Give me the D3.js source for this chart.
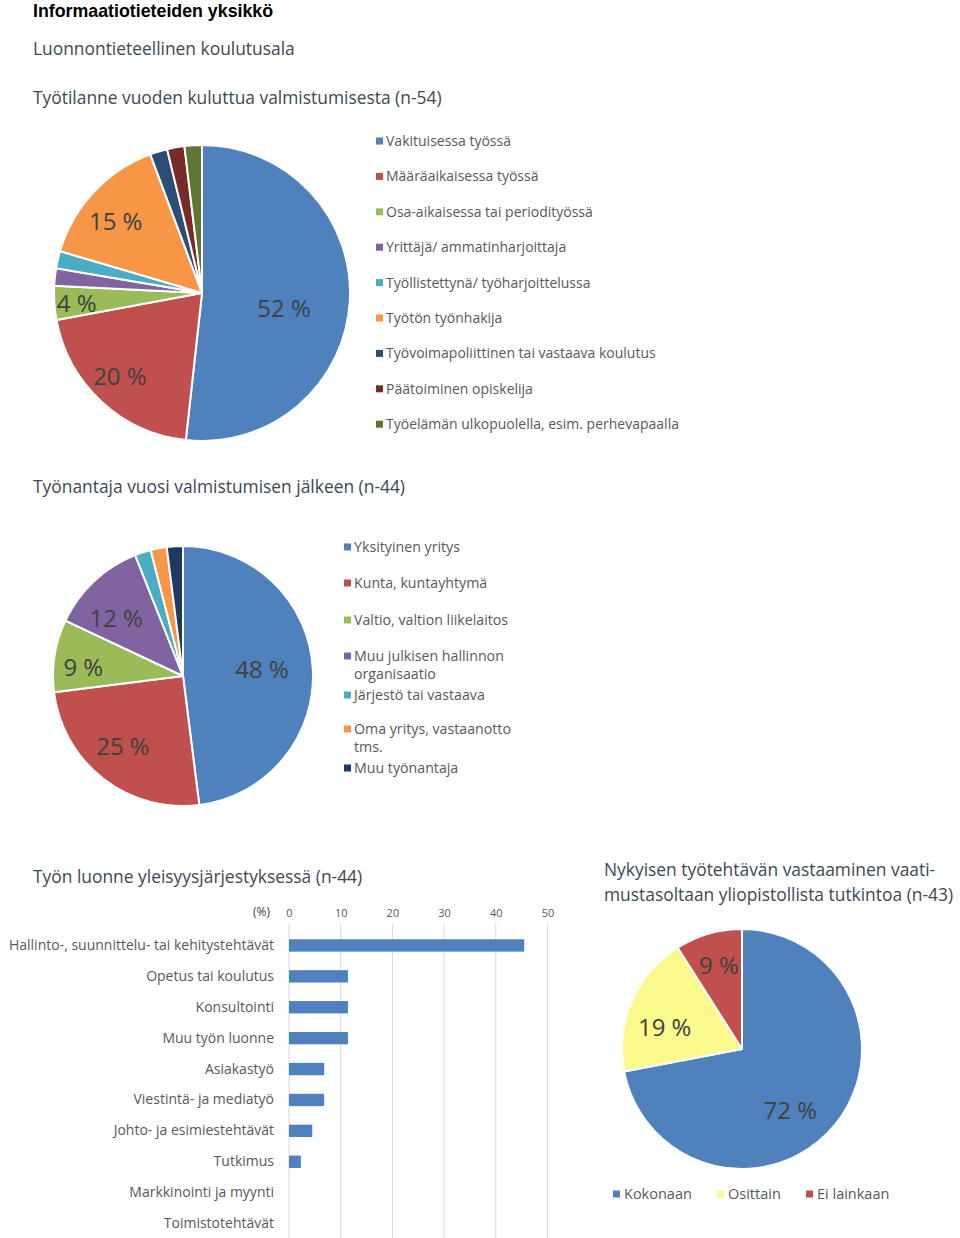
<!DOCTYPE html>
<html><head><meta charset="utf-8">
<script src="https://cdn.jsdelivr.net/npm/d3@7"></script>
<style>
body{margin:0;background:#fff;}
svg{display:block;}
text{font-family:"Open Sans",sans-serif;}
</style></head>
<body>
<script>
// ---------- DATA ----------
const pie1Categories = ["Vakituisessa työssä","Määräaikaisessa työssä","Osa-aikaisessa tai periodityössä","Yrittäjä/ ammatinharjoittaja","Työllistettynä/ työharjoittelussa","Työtön työnhakija","Työvoimapoliittinen tai vastaava koulutus","Päätoiminen opiskelija","Työelämän ulkopuolella, esim. perhevapaalla"];
const pie1Values = [51.9, 20.4, 3.7, 1.9, 1.9, 14.8, 1.9, 1.9, 1.9];

const pie2Categories = ["Yksityinen yritys","Kunta, kuntayhtymä","Valtio, valtion liikelaitos","Muu julkisen hallinnon organisaatio","Järjestö tai vastaava","Oma yritys, vastaanotto tms.","Muu työnantaja"];
const pie2Values = [48, 25, 9, 12, 2, 2, 2];

const barCategories = ["Hallinto-, suunnittelu- tai kehitystehtävät","Opetus tai koulutus","Konsultointi","Muu työn luonne","Asiakastyö","Viestintä- ja mediatyö","Johto- ja esimiestehtävät","Tutkimus","Markkinointi ja myynti","Toimistotehtävät"];
const barValues = [45.5, 11.4, 11.4, 11.4, 6.8, 6.8, 4.5, 2.3, 0, 0];
const barTicks = [0, 10, 20, 30, 40, 50];

const pie3Categories = ["Kokonaan","Osittain","Ei lainkaan"];
const pie3Values = [72, 19, 9];

// ---------- STYLE / LAYOUT ----------
const colors9 = ["#4F81BD","#C0504D","#9BBB59","#8064A2","#4BACC6","#F79646","#2C4D75","#772C2A","#5F7530"];
const colors7 = ["#4F81BD","#C0504D","#9BBB59","#8064A2","#4BACC6","#F79646","#1F3A5F"];
const colors3 = ["#4F81BD","#FAFA8C","#C0504D"];
const titleColor = "#3d4855";
const legendColor = "#595959";
const labelColor = "#404040";

// label placement per slice: [radius fraction, angle offset in degrees] (layout only)
const pie1LabelPos = [[0.564,7.3],[0.79,1.7],[0.85,-0.8],[0.7,0],[0.7,0],[0.76,-3.1],[0.7,0],[0.7,0],[0.7,0]];
const pie2LabelPos = [[0.61,-1.5],[0.71,2.8],[0.77,-3.9],[0.68,-5.9],[0.7,0],[0.7,0],[0.7,0]];
const pie3LabelPos = [[0.65,12.2],[0.67,-7.5],[0.72,0.7]];

const svg = d3.select("body").append("svg").attr("width",960).attr("height",1238);
svg.append("rect").attr("width",960).attr("height",1238).attr("fill","#fff");

// Titles
svg.append("text").attr("x",33).attr("y",17).text("Informaatiotieteiden yksikkö")
  .style("font-family","'Liberation Sans',Arial,sans-serif").style("font-weight","bold").style("font-size","17.8px").attr("fill","#000");
const titles = [
  {t:"Luonnontieteellinen koulutusala", x:33, y:55},
  {t:"Työtilanne vuoden kuluttua valmistumisesta (n-54)", x:33, y:104},
  {t:"Työnantaja vuosi valmistumisen jälkeen (n-44)", x:33, y:493},
  {t:"Työn luonne yleisyysjärjestyksessä (n-44)", x:33, y:883},
  {t:"Nykyisen työtehtävän vastaaminen vaati-", x:604, y:876},
  {t:"mustasoltaan yliopistollista tutkintoa (n-43)", x:604, y:901}
];
svg.selectAll("text.title").data(titles).join("text").attr("class","title")
  .attr("x",d=>d.x).attr("y",d=>d.y).text(d=>d.t)
  .attr("fill",titleColor).style("font-size","17.4px");

function drawPie(values, colors, cx, cy, r, labelPos, fontSize){
  const pie = d3.pie().sort(null).value(d=>d);
  const arcs = pie(values);
  const arc = d3.arc().innerRadius(0).outerRadius(r);
  const g = svg.append("g").attr("transform",`translate(${cx},${cy})`);
  g.selectAll("path").data(arcs).join("path")
    .attr("d",arc).attr("fill",(d,i)=>colors[i])
    .attr("stroke","#fff").attr("stroke-width",2).attr("stroke-linejoin","round");
  g.selectAll("text").data(arcs.filter(d=>d.data>=3)).join("text")
    .attr("transform",d=>{
      const p = labelPos[d.index];
      const a = (d.startAngle+d.endAngle)/2 + p[1]*Math.PI/180;
      const lr = r*p[0];
      return `translate(${lr*Math.sin(a)},${-lr*Math.cos(a)})`;})
    .attr("text-anchor","middle").attr("dy","0.36em")
    .style("font-size",fontSize+"px").attr("fill",labelColor)
    .text(d=>d3.format(".0f")(d.data)+" %");
}

function drawLegend(cats, colors, x, ys, fontSize, lineGap){
  const g = svg.append("g");
  cats.forEach((c,i)=>{
    g.append("rect").attr("x",x).attr("y",ys[i]-3.5).attr("width",7).attr("height",7).attr("fill",colors[i]);
    const lines = Array.isArray(c)?c:[c];
    lines.forEach((ln,j)=>{
      g.append("text").attr("x",x+10).attr("y",ys[i]+j*lineGap).attr("dy","0.35em")
        .style("font-size",fontSize+"px").attr("fill",legendColor).text(ln);
    });
  });
}

// Pie 1
drawPie(pie1Values, colors9, 202, 293, 148, pie1LabelPos, 24);
drawLegend(pie1Categories, colors9, 376, d3.range(9).map(i=>141+i*35.4), 14, 0);

// Pie 2
drawPie(pie2Values, colors7, 183, 676, 130, pie2LabelPos, 24);
const leg2 = [pie2Categories[0],pie2Categories[1],pie2Categories[2],["Muu julkisen hallinnon","organisaatio"],pie2Categories[4],["Oma yritys, vastaanotto","tms."],pie2Categories[6]];
drawLegend(leg2, colors7, 344, [547,583,620,656,695,729,768], 14.2, 18.5);

// Bar chart
const x = d3.scaleLinear().domain([0,50]).range([289,547.5]);
const y = d3.scaleBand().domain(barCategories).range([930,1239]).paddingInner(0.6).paddingOuter(0.3);
const bg = svg.append("g");
bg.selectAll("line.grid").data(barTicks).join("line").attr("class","grid")
  .attr("x1",d=>x(d)).attr("x2",d=>x(d)).attr("y1",924).attr("y2",1238)
  .attr("stroke","#d9d9d9").attr("stroke-width",1);
const xAxis = d3.axisTop(x).tickValues(barTicks).tickSize(0).tickPadding(0);
const xa = bg.append("g").attr("transform","translate(0,917)").call(xAxis);
xa.select(".domain").remove();
xa.selectAll("text").style("font-family","'Open Sans',sans-serif").style("font-size","11px").attr("fill","#595959");
bg.append("text").attr("x",270).attr("y",916).attr("text-anchor","end").style("font-size","12px").attr("fill","#404040").text("(%)");
bg.selectAll("rect.bar").data(barValues).join("rect").attr("class","bar")
  .attr("x",x(0)).attr("y",(d,i)=>y(barCategories[i]))
  .attr("width",d=>x(d)-x(0)).attr("height",y.bandwidth())
  .attr("fill","#4F81BD");
const yAxis = d3.axisLeft(y).tickSize(0).tickPadding(0);
const ya = bg.append("g").attr("transform","translate(274,0)").call(yAxis);
ya.select(".domain").remove();
ya.selectAll("text").style("font-family","'Open Sans',sans-serif").style("font-size","14px").attr("fill","#595959");

// Pie 3
drawPie(pie3Values, colors3, 742, 1049, 120, pie3LabelPos, 24);
const lg3 = svg.append("g");
const l3x = [613, 717, 806];
pie3Categories.forEach((c,i)=>{
  lg3.append("rect").attr("x",l3x[i]).attr("y",1190.5).attr("width",7).attr("height",7).attr("fill",colors3[i]);
  lg3.append("text").attr("x",l3x[i]+11).attr("y",1194).attr("dy","0.35em").style("font-size","14.5px").attr("fill",legendColor).text(c);
});
</script>
</body></html>
